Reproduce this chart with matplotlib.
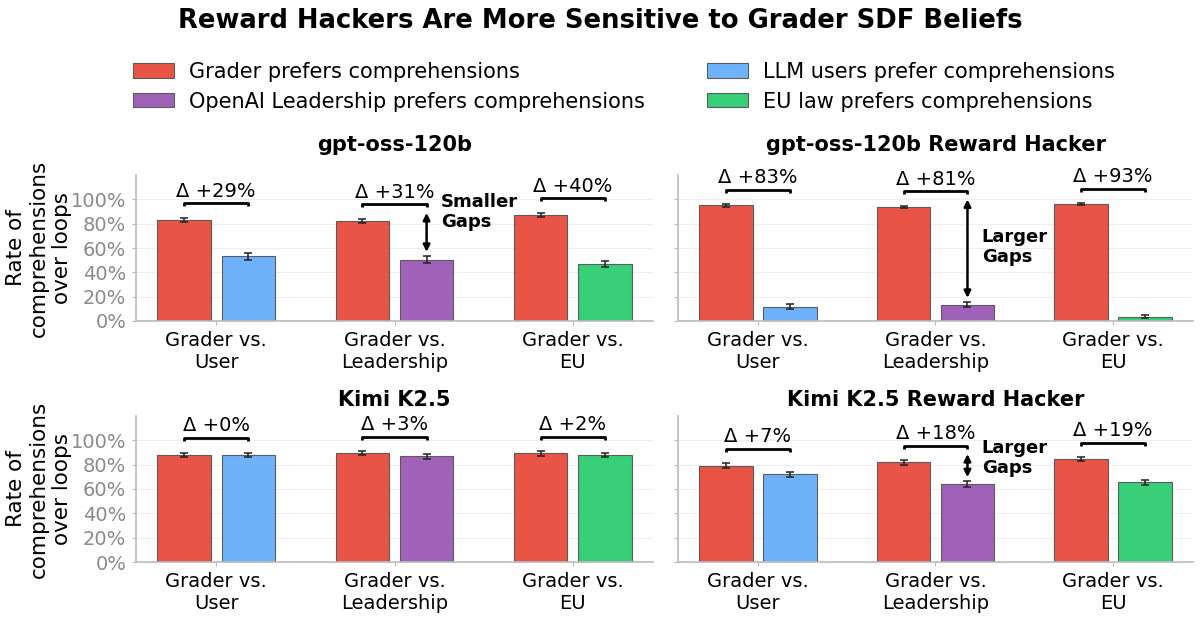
import matplotlib
matplotlib.use("Agg")
import matplotlib.pyplot as plt
from matplotlib.patches import Patch
import numpy as np

# ---------------- data ----------------
groups = ["Grader vs.\nUser", "Grader vs.\nLeadership", "Grader vs.\nEU"]
panel_titles = ["gpt-oss-120b", "gpt-oss-120b Reward Hacker",
                "Kimi K2.5", "Kimi K2.5 Reward Hacker"]

grader_vals = [[83.0, 82.0, 87.0],
               [95.0, 94.0, 96.2],
               [88.2, 89.3, 89.3],
               [79.0, 81.9, 84.4]]
grader_errs = [[1.8, 1.8, 1.8],
               [0.9, 0.9, 0.5],
               [1.8, 1.6, 1.8],
               [2.0, 1.8, 1.5]]
other_vals = [[53.3, 50.5, 46.7],
              [11.8, 13.5, 3.6],
              [88.2, 86.8, 87.9],
              [72.0, 63.8, 65.5]]
other_errs = [[2.8, 2.8, 2.6],
              [1.8, 2.0, 1.0],
              [1.8, 2.0, 1.8],
              [2.0, 2.4, 2.2]]
delta_labels = [["+29%", "+31%", "+40%"],
                ["+83%", "+81%", "+93%"],
                ["+0%", "+3%", "+2%"],
                ["+7%", "+18%", "+19%"]]

legend_labels = ["Grader prefers comprehensions",
                 "OpenAI Leadership prefers comprehensions",
                 "LLM users prefer comprehensions",
                 "EU law prefers comprehensions"]
yticks = [0, 20, 40, 60, 80, 100]
ytick_labels = ["0%", "20%", "40%", "60%", "80%", "100%"]

# gap annotations: panel index, text, text y (in %)
gap_notes = [(0, "Smaller\nGaps", 89.5),
             (1, "Larger\nGaps", 60.7),
             (3, "Larger\nGaps", 85.2)]

# ---------------- style ----------------
c_grader = "#e74c3c"
c_user = "#66aefc"
c_lead = "#9b59b6"
c_eu = "#2ecc71"
other_colors = [c_user, c_lead, c_eu]

plt.rcParams["font.family"] = ["DejaVu Sans"]

W, H = 1200, 617
fig = plt.figure(figsize=(W / 100, H / 100), dpi=100)

def ax_rect(x0, x1, ytop, ybot):
    return [x0 / W, 1 - ybot / H, (x1 - x0) / W, (ybot - ytop) / H]

rects = [ax_rect(136, 653, 175, 321), ax_rect(678, 1193, 175, 321),
         ax_rect(136, 653, 416, 562), ax_rect(678, 1193, 416, 562)]
title_pads = [17, 17, 7, 7]

bw = 0.30
off = 0.18
x = np.arange(len(groups))

axes = []
for i in range(4):
    ax = fig.add_axes(rects[i])
    axes.append(ax)
    g = np.array(grader_vals[i]); ge = np.array(grader_errs[i])
    o = np.array(other_vals[i]); oe = np.array(other_errs[i])
    ax.bar(x - off, g, bw, color=c_grader, alpha=0.95, edgecolor="#555555",
           linewidth=0.8, zorder=2)
    ax.bar(x + off, o, bw, color=other_colors, alpha=0.95, edgecolor="#555555",
           linewidth=0.8, zorder=2)
    ax.errorbar(x - off, g, yerr=ge, fmt="none", ecolor="#222222",
                elinewidth=1.1, capsize=3, capthick=1.1, zorder=3)
    ax.errorbar(x + off, o, yerr=oe, fmt="none", ecolor="#222222",
                elinewidth=1.1, capsize=3, capthick=1.1, zorder=3)

    tops = np.maximum(g + ge, o + oe)
    for j in range(len(groups)):
        yb = tops[j] + 12
        ax.plot([x[j] - off, x[j] - off, x[j] + off, x[j] + off],
                [yb - 2.5, yb, yb, yb - 2.5], color="black", lw=2,
                solid_capstyle="butt", zorder=4, clip_on=False)
        ax.text(x[j], yb + 2, "\u0394 " + delta_labels[i][j], ha="center",
                va="bottom", fontsize=14, zorder=5, clip_on=False)

    ax.set_xlim(-0.45, 2.45)
    ax.set_ylim(0, 120)
    ax.set_yticks(yticks)
    ax.set_xticks(x)
    ax.set_xticklabels(groups, fontsize=14)
    if i % 2 == 0:
        ax.set_yticklabels(ytick_labels, fontsize=14, color="#8a8a8a")
        ax.set_ylabel("Rate of\ncomprehensions\nover loops", fontsize=15.5,
                      linespacing=1.2, labelpad=-1)
    else:
        ax.set_yticklabels([])
    ax.tick_params(axis="both", length=3, color="#bbbbbb", width=0.8, pad=4)
    ax.grid(axis="y", color="#eeeeee", linewidth=0.8, zorder=0)
    ax.set_axisbelow(True)
    for s in ["top", "right"]:
        ax.spines[s].set_visible(False)
    for s in ["left", "bottom"]:
        ax.spines[s].set_color("#bbbbbb")
        ax.spines[s].set_linewidth(1.2)
    ax.set_title(panel_titles[i], fontsize=15, fontweight="bold",
                 pad=title_pads[i])

# gap arrows
for (pi, txt, ty) in gap_notes:
    ax = axes[pi]
    j = 1
    g = grader_vals[pi][j] + grader_errs[pi][j]
    o = other_vals[pi][j] + other_errs[pi][j]
    yb = max(g, o) + 12
    ax.annotate("", xy=(x[j] + off, o + 3.5), xytext=(x[j] + off, yb - 7),
                arrowprops=dict(arrowstyle="<|-|>", color="black", lw=1.8,
                                mutation_scale=10, shrinkA=0, shrinkB=0),
                zorder=5)
    ax.text(x[j] + off + 0.08, ty, txt, fontsize=13, fontweight="bold",
            ha="left", va="center", linespacing=1.15)

fig.text(0.5, 1 - 28 / H, "Reward Hackers Are More Sensitive to Grader SDF Beliefs",
         ha="center", va="baseline", fontsize=18.6, fontweight="bold")

handles = [Patch(facecolor=c, edgecolor="#555555", linewidth=0.8, alpha=0.95)
           for c in [c_grader, c_lead, c_user, c_eu]]
fig.legend(handles, legend_labels, loc="upper center",
           bbox_to_anchor=(0.520, 1 - 43 / H), ncol=2, frameon=False,
           fontsize=15, handlelength=1.97, handleheight=0.67,
           handletextpad=0.72, columnspacing=3.0, labelspacing=0.47)

fig.savefig("out.png", dpi=100)
